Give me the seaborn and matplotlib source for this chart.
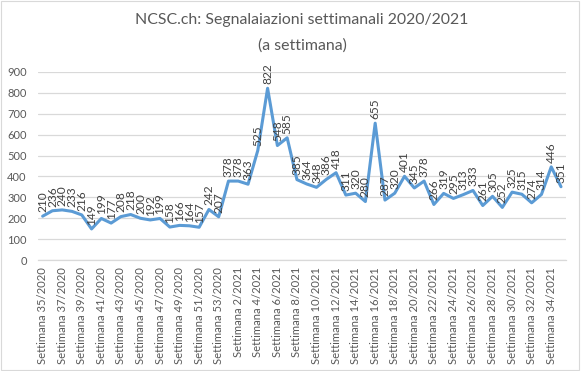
import matplotlib
matplotlib.use("Agg")
import matplotlib.pyplot as plt
import seaborn as sns
import pandas as pd
from matplotlib.patches import Rectangle

weeks_2020 = list(range(35, 54))
weeks_2021 = list(range(1, 36))
values_2020 = [210, 236, 240, 233, 216, 149, 199, 177, 208, 218,
               200, 192, 199, 158, 166, 164, 157, 242, 207]
values_2021 = [378, 378, 363, 525, 822, 548, 585, 385, 364, 348,
               386, 418, 311, 320, 280, 655, 287, 320, 401, 345,
               378, 266, 319, 295, 313, 333, 261, 305, 252, 325,
               315, 274, 314, 446, 351]

labels = [f"Settimana {w}/2020" for w in weeks_2020] + [f"Settimana {w}/2021" for w in weeks_2021]
df = pd.DataFrame({"pos": range(len(labels)), "week": labels,
                   "count": values_2020 + values_2021})

sns.set_style("white")
plt.rcParams["font.family"] = ["Lato", "DejaVu Sans"]

fig = plt.figure(figsize=(5.81, 3.71), dpi=100)
ax = fig.add_axes([0.065, 0.299, 0.909, 0.507])

sns.lineplot(data=df, x="pos", y="count", ax=ax, color="#5B9BD5", linewidth=2.2)

for _, r in df.iterrows():
    ax.annotate(str(r["count"]), (r["pos"], r["count"]), xytext=(0, 3),
                textcoords="offset points", rotation=90, ha="center", va="bottom",
                fontsize=8.6, color="#404040")

ax.set_xlim(-0.5, len(df) - 0.5)
ax.set_ylim(0, 900)
ax.set_yticks(range(0, 901, 100))
ax.set_xticks(df["pos"][::2])
ax.set_xticklabels(df["week"][::2], rotation=90, fontsize=8.1, color="#595959")
ax.tick_params(axis="y", labelsize=8, labelcolor="#595959", length=0, pad=8)
ax.tick_params(axis="x", length=0, pad=5)
ax.grid(axis="y", color="#D9D9D9", linewidth=0.9)
ax.set_axisbelow(True)
for s in ["left", "right", "top"]:
    ax.spines[s].set_visible(False)
ax.spines["bottom"].set_color("#D9D9D9")
ax.spines["bottom"].set_linewidth(0.9)
ax.set_xlabel("")
ax.set_ylabel("")

fig.text(0.52, 0.945, "NCSC.ch: Segnalaiazioni settimanali 2020/2021", ha="center", va="center",
         fontsize=11.4, color="#595959")
fig.text(0.52, 0.876, "(a settimana)", ha="center", va="center", fontsize=11.4, color="#595959")

fig.patches.append(Rectangle((0.002, 0.003), 0.995, 0.993, transform=fig.transFigure,
                             fill=False, edgecolor="#D9D9D9", linewidth=0.8))

fig.savefig("out.png", dpi=100)
